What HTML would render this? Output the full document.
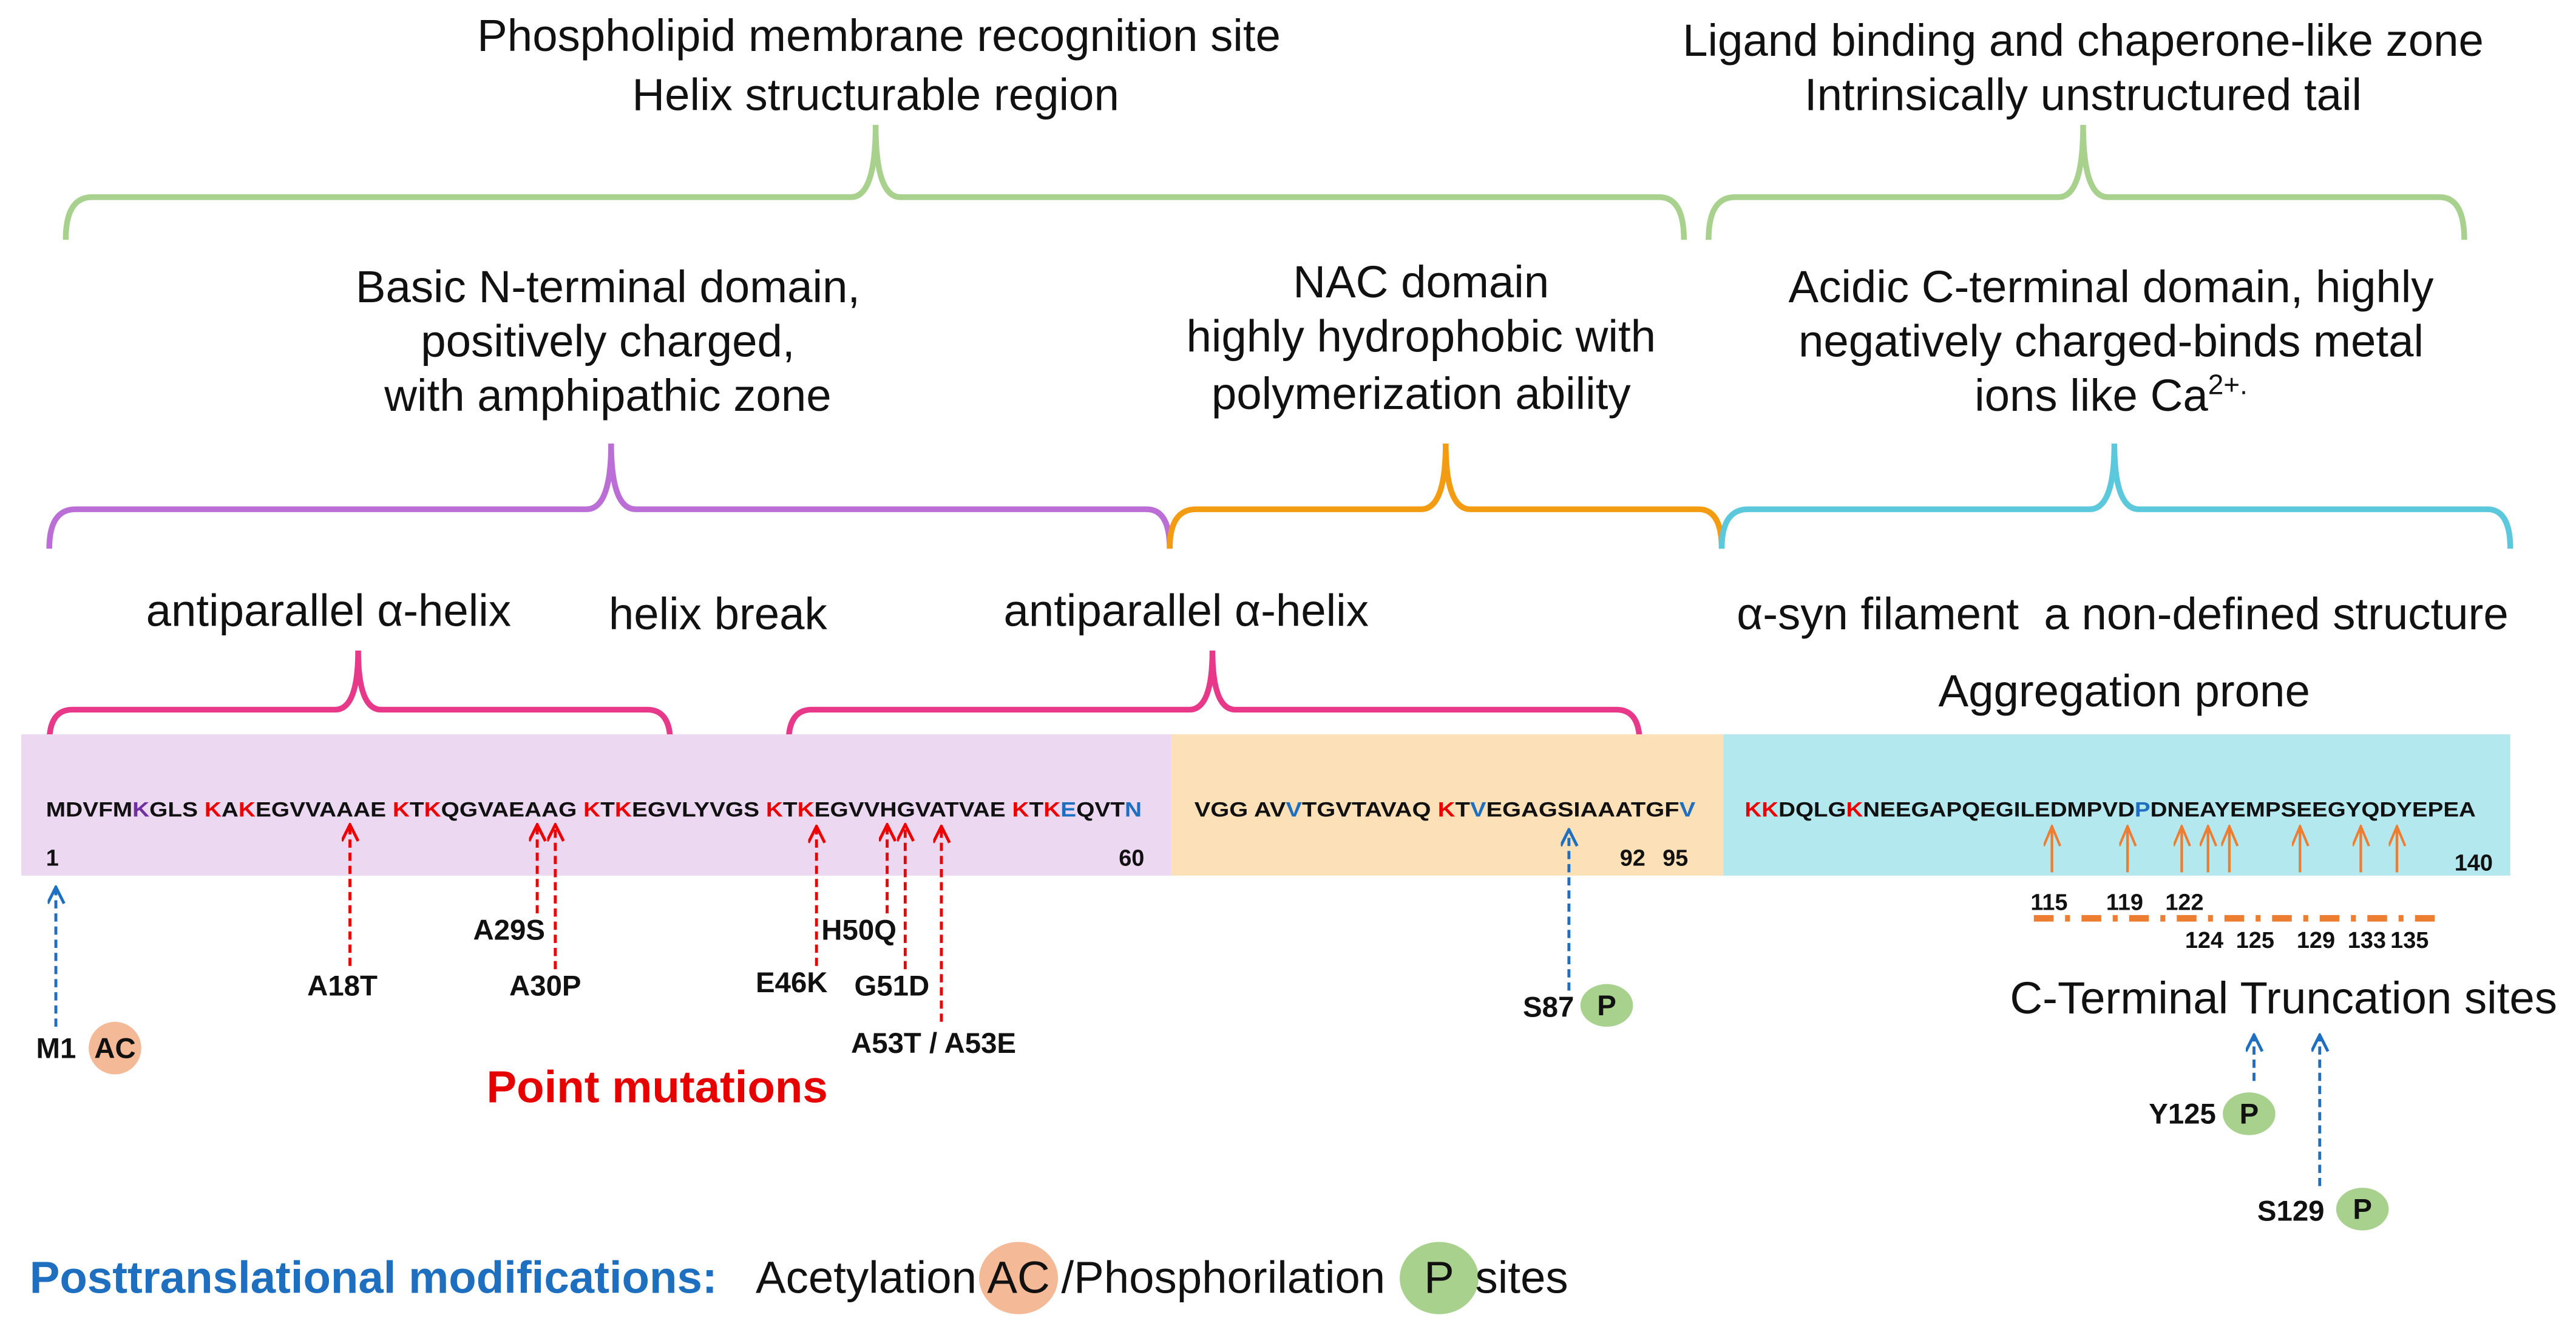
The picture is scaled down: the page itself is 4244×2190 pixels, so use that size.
<!DOCTYPE html>
<html><head><meta charset="utf-8"><style>
html,body{margin:0;padding:0;background:#fff;}
svg{display:block;}
text{font-family:"Liberation Sans",sans-serif;}
.t{font-size:27.5px;fill:#111;text-anchor:middle;}
.s{font-size:12.5px;font-weight:bold;fill:#111;}
.n{font-size:14px;font-weight:bold;fill:#111;}
.m{font-size:17.5px;font-weight:bold;fill:#111;}
</style></head><body>
<svg width="4244" height="2190" viewBox="0 0 1568 809" preserveAspectRatio="none" xmlns="http://www.w3.org/2000/svg">
<defs>
<marker id="ar" markerWidth="12" markerHeight="12" refX="5" refY="1" orient="0" markerUnits="userSpaceOnUse"><path d="M0,11 L5,1 L10,11" fill="none" stroke="#e00" stroke-width="1.8"/></marker>
<marker id="ab" markerWidth="12" markerHeight="12" refX="5" refY="1" orient="0" markerUnits="userSpaceOnUse"><path d="M0,11 L5,1 L10,11" fill="none" stroke="#1f6fc0" stroke-width="1.8"/></marker>
<marker id="ao" markerWidth="12" markerHeight="14" refX="5" refY="1" orient="0" markerUnits="userSpaceOnUse"><path d="M0,13 L5,1 L10,13" fill="none" stroke="#ed7d31" stroke-width="1.5"/></marker>
</defs>

<text class="t" x="535" y="31">Phospholipid membrane recognition site</text>
<text class="t" x="533" y="67">Helix structurable region</text>
<text class="t" x="1268" y="34">Ligand binding and chaperone-like zone</text>
<text class="t" x="1268" y="67">Intrinsically unstructured tail</text>

<g fill="none" stroke-width="3.5">
<path stroke="#a9d18e" d="M40 146 Q40 120 56 120 L518 120 Q533 120 533 76 Q533 120 548 120 L1010 120 Q1025 120 1025 146"/>
<path stroke="#a9d18e" d="M1040 146 Q1040 120 1056 120 L1253 120 Q1268 120 1268 76 Q1268 120 1283 120 L1485 120 Q1500 120 1500 146"/>
<path stroke="#bb6fd6" d="M30 334 Q30 310 46 310 L357 310 Q372 310 372 270 Q372 310 387 310 L698 310 Q712 310 712 334"/>
<path stroke="#f39c12" d="M712 334 Q712 310 728 310 L865 310 Q880 310 880 270 Q880 310 895 310 L1034 310 Q1048 310 1048 334"/>
<path stroke="#5bc8dc" d="M1048 334 Q1048 310 1064 310 L1272 310 Q1287 310 1287 270 Q1287 310 1302 310 L1514 310 Q1528 310 1528 334"/>
<path stroke="#e8388a" d="M30 452 Q30 432 44 432 L204 432 Q218 432 218 396 Q218 432 232 432 L394 432 Q408 432 408 452"/>
<path stroke="#e8388a" d="M480 452 Q480 432 494 432 L724 432 Q738 432 738 396 Q738 432 752 432 L984 432 Q998 432 998 452"/>
</g>

<text class="t" x="370" y="184">Basic N-terminal domain,</text>
<text class="t" x="370" y="217">positively charged,</text>
<text class="t" x="370" y="250">with amphipathic zone</text>
<text class="t" x="865" y="181">NAC domain</text>
<text class="t" x="865" y="214">highly hydrophobic with</text>
<text class="t" x="865" y="249">polymerization ability</text>
<text class="t" x="1285" y="184">Acidic C-terminal domain, highly</text>
<text class="t" x="1285" y="217">negatively charged-binds metal</text>
<text class="t" x="1285" y="250">ions like Ca<tspan font-size="17" dy="-10">2+.</tspan></text>

<text class="t" x="200" y="381">antiparallel α-helix</text>
<text class="t" x="437" y="383">helix break</text>
<text class="t" x="722" y="381">antiparallel α-helix</text>
<text class="t" x="1292" y="383" xml:space="preserve">α-syn filament  a non-defined structure</text>
<text class="t" x="1293" y="430">Aggregation prone</text>

<rect x="13" y="447" width="700" height="86" fill="#ecd9f1"/>
<rect x="713" y="447" width="336" height="86" fill="#fce1b8"/>
<rect x="1049" y="447" width="479" height="86" fill="#b4e8ef"/>

<text class="s" x="28" y="497" textLength="667" lengthAdjust="spacingAndGlyphs">MDVFM<tspan fill="#7030a0">K</tspan>GLS <tspan fill="#e00">K</tspan>A<tspan fill="#e00">K</tspan>EGVVAAAE <tspan fill="#e00">K</tspan>T<tspan fill="#e00">K</tspan>QGVAEAAG <tspan fill="#e00">K</tspan>T<tspan fill="#e00">K</tspan>EGVLYVGS <tspan fill="#e00">K</tspan>T<tspan fill="#e00">K</tspan>EGVVHGVATVAE <tspan fill="#e00">K</tspan>T<tspan fill="#e00">K</tspan><tspan fill="#1f6fc0">E</tspan>QVT<tspan fill="#1f6fc0">N</tspan></text>
<text class="s" x="727" y="497" textLength="305" lengthAdjust="spacingAndGlyphs">VGG AV<tspan fill="#1f6fc0">V</tspan>TGVTAVAQ <tspan fill="#e00">K</tspan>T<tspan fill="#1f6fc0">V</tspan>EGAGSIAAATGF<tspan fill="#1f6fc0">V</tspan></text>
<text class="s" x="1062" y="497" textLength="445" lengthAdjust="spacingAndGlyphs"><tspan fill="#e00">KK</tspan>DQLG<tspan fill="#e00">K</tspan>NEEGAPQEGILEDMPVD<tspan fill="#1f6fc0">P</tspan>DNEAYEMPSEEGYQDYEPEA</text>

<text class="n" x="28" y="527">1</text>
<text class="n" x="681" y="527">60</text>
<text class="n" x="986" y="527">92</text>
<text class="n" x="1012" y="527">95</text>
<text class="n" x="1494" y="530">140</text>

<g stroke="#e00" stroke-width="1.8" stroke-dasharray="5,3" marker-end="url(#ar)">
<line x1="213" y1="588" x2="213" y2="502"/>
<line x1="327" y1="556" x2="327" y2="502"/>
<line x1="338" y1="590" x2="338" y2="502"/>
<line x1="497" y1="588" x2="497" y2="503"/>
<line x1="540" y1="556" x2="540" y2="502"/>
<line x1="551" y1="590" x2="551" y2="502"/>
<line x1="573" y1="622" x2="573" y2="503"/>
</g>
<g stroke="#1f6fc0" stroke-width="1.8" stroke-dasharray="5,3" marker-end="url(#ab)">
<line x1="34" y1="625" x2="34" y2="540"/>
<line x1="955" y1="603" x2="955" y2="505"/>
<line x1="1372" y1="658" x2="1372" y2="630"/>
<line x1="1412" y1="722" x2="1412" y2="630"/>
</g>
<g stroke="#ed7d31" stroke-width="1.6" marker-end="url(#ao)">
<line x1="1249" y1="531" x2="1249" y2="503"/>
<line x1="1295" y1="531" x2="1295" y2="503"/>
<line x1="1328" y1="531" x2="1328" y2="503"/>
<line x1="1344" y1="531" x2="1344" y2="503"/>
<line x1="1357" y1="531" x2="1357" y2="503"/>
<line x1="1400" y1="531" x2="1400" y2="503"/>
<line x1="1437" y1="531" x2="1437" y2="503"/>
<line x1="1459" y1="531" x2="1459" y2="503"/>
</g>
<text class="n" x="1236" y="554" font-size="12">115</text>
<text class="n" x="1282" y="554" font-size="12">119</text>
<text class="n" x="1318" y="554" font-size="12">122</text>
<line x1="1238" y1="559" x2="1485" y2="559" stroke="#ed7d31" stroke-width="4" stroke-dasharray="12,7,3,7"/>
<text class="n" x="1330" y="577" font-size="12">124</text>
<text class="n" x="1361" y="577" font-size="12">125</text>
<text class="n" x="1398" y="577" font-size="12">129</text>
<text class="n" x="1429" y="577" font-size="12">133</text>
<text class="n" x="1455" y="577" font-size="12">135</text>

<text class="m" x="187" y="606">A18T</text>
<text class="m" x="288" y="572">A29S</text>
<text class="m" x="310" y="606">A30P</text>
<text class="m" x="460" y="604">E46K</text>
<text class="m" x="500" y="572">H50Q</text>
<text class="m" x="520" y="606">G51D</text>
<text class="m" x="518" y="641">A53T / A53E</text>
<text x="400" y="671" font-size="27.5" font-weight="bold" fill="#e60000" text-anchor="middle">Point mutations</text>

<text class="m" x="22" y="644">M1</text>
<circle cx="70" cy="638" r="16" fill="#f4b996"/>
<text class="m" x="70" y="644" text-anchor="middle">AC</text>
<text class="m" x="927" y="619">S87</text>
<ellipse cx="978" cy="612" rx="16" ry="13" fill="#a9d18e"/>
<text class="m" x="978" y="618" text-anchor="middle">P</text>

<text class="t" x="1390" y="617">C-Terminal Truncation sites</text>
<text class="m" x="1308" y="684">Y125</text>
<ellipse cx="1369" cy="678" rx="16" ry="13" fill="#a9d18e"/>
<text class="m" x="1369" y="684" text-anchor="middle">P</text>
<text class="m" x="1374" y="743">S129</text>
<ellipse cx="1438" cy="736" rx="16" ry="13" fill="#a9d18e"/>
<text class="m" x="1438" y="742" text-anchor="middle">P</text>

<text x="18" y="787" font-size="27.5" font-weight="bold" fill="#1f6fc0">Posttranslational modifications:</text>
<text x="460" y="787" font-size="27.5" fill="#111">Acetylation</text>
<ellipse cx="620" cy="778" rx="24" ry="22" fill="#f4b996"/>
<text x="620" y="787" font-size="27.5" fill="#111" text-anchor="middle">AC</text>
<text x="646" y="787" font-size="27.5" fill="#111">/Phosphorilation</text>
<ellipse cx="876" cy="778" rx="24" ry="22" fill="#a9d18e"/>
<text x="876" y="787" font-size="27.5" fill="#111" text-anchor="middle">P</text>
<text x="898" y="787" font-size="27.5" fill="#111">sites</text>
</svg>
</body></html>
